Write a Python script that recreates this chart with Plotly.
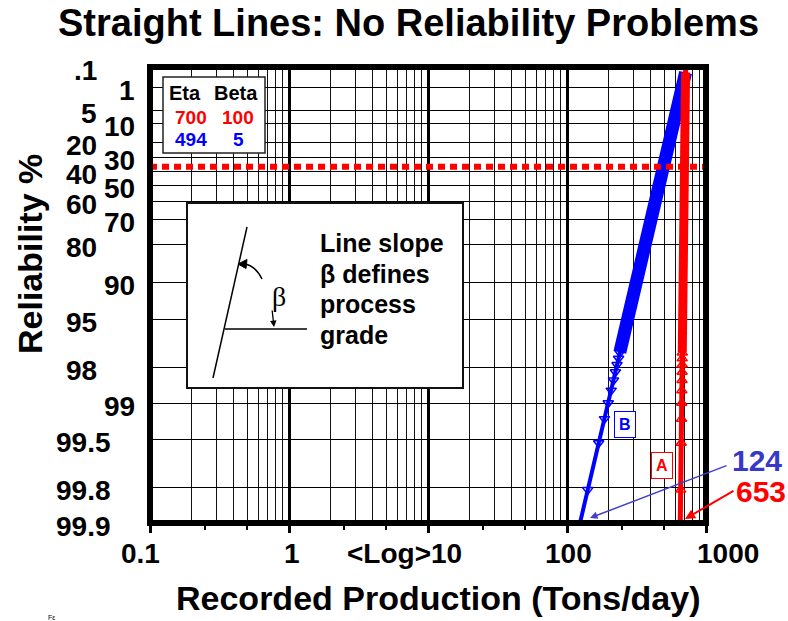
import math
import plotly.graph_objects as go

# ---------------- data ----------------
title_text = "Straight Lines: No Reliability Problems"
x_title = "Recorded Production (Tons/day)"
y_title = "Reliability %"

series_names = ["A", "B"]
eta = [700, 494]
beta = [100, 5]

# straight fitted lines: production (tons/day) at reliability % (chart bottom / top)
line_A_x = [653, 714]
line_A_r = [99.9, 0.1]
line_B_x = [124, 727]
line_B_r = [99.9, 0.1]

# dense upper part of the plotted points (markers overlap into a solid band)
band_A_x = [675, 713]
band_A_r = [97.3, 0.2]
band_B_x = [240, 713]
band_B_r = [97.3, 0.2]

# individually readable points in the lower tail
pts_r = [99.81, 99.53, 99.25, 98.98, 98.70, 98.42, 98.15, 97.87, 97.60, 97.32]
pts_A_x = [657, 663, 667, 669, 670, 672, 673, 674, 674, 675]
pts_B_x = [141, 169, 186, 198, 208, 216, 223, 229, 235, 240]

char_life_r = 36.8  # red dotted reference line

y_grid_r = [1, 5, 10, 20, 30, 40, 50, 60, 70, 80, 90, 95, 98, 99, 99.5, 99.8]
ytick_right = ["1", "10", "30", "50", "70", "90", "99"]
ytick_left = [".1", "5", "20", "40", "60", "80", "95", "98"]
ytick_left2 = ["99.5", "99.8", "99.9"]

x_decades = [0.1, 1, 10, 100, 1000]
xtick_text = ["0.1", "1", "&lt;Log&gt;10", "100", "1000"]
x_minor = [m * d for d in [0.1, 1, 10, 100] for m in range(2, 10)]
x_small_ticks = [0.25, 0.5, 2.5, 5, 25, 50, 250, 500]

callouts = [line_B_x[0], line_A_x[0]]

inset_lines = ["Line slope", "β defines", "process", "grade"]

# ---------------- helpers ----------------
W, H = 788, 621
L, R, T, B = 150, 706, 67, 523
FONT = "Liberation Sans, Arial, sans-serif"


def wy(r):
    """Weibull probability-paper position for reliability %."""
    return math.log(-math.log(r / 100.0))


def px(p):
    return (p - L) / (R - L)


def py(p):
    return (B - p) / (B - T)


BLUE = "#0000ff"
RED = "#ff0000"

fig = go.Figure()

# ---- series B (blue)
fig.add_trace(go.Scatter(x=line_B_x, y=[wy(r) for r in line_B_r], mode="lines",
                         line=dict(color=BLUE, width=4), hoverinfo="skip"))
fig.add_trace(go.Scatter(x=band_B_x, y=[wy(r) for r in band_B_r], mode="lines",
                         line=dict(color=BLUE, width=13), hoverinfo="skip"))
fig.add_trace(go.Scatter(x=pts_B_x, y=[wy(r) for r in pts_r], mode="markers",
                         marker=dict(symbol="triangle-down-open", size=9, color=BLUE,
                                     line=dict(width=1.5, color=BLUE)), hoverinfo="skip"))
# ---- series A (red)
fig.add_trace(go.Scatter(x=line_A_x, y=[wy(r) for r in line_A_r], mode="lines",
                         line=dict(color=RED, width=5), hoverinfo="skip"))
fig.add_trace(go.Scatter(x=band_A_x, y=[wy(r) for r in band_A_r], mode="lines",
                         line=dict(color=RED, width=9), hoverinfo="skip"))
fig.add_trace(go.Scatter(x=pts_A_x, y=[wy(r) for r in pts_r], mode="markers",
                         marker=dict(symbol="triangle-up-open", size=9, color=RED,
                                     line=dict(width=1.5, color=RED)), hoverinfo="skip"))
# dummy trace for the small-tick axis
fig.add_trace(go.Scatter(x=[1], y=[None], xaxis="x2", mode="markers",
                         showlegend=False, hoverinfo="skip"))

shapes = []
# characteristic-life dotted line
shapes.append(dict(type="line", xref="paper", yref="y", x0=0, x1=1,
                   y0=wy(char_life_r), y1=wy(char_life_r),
                   line=dict(color=RED, width=6, dash="7px,5px"), layer="above"))
# legend box
shapes.append(dict(type="rect", xref="paper", yref="paper", x0=px(163), x1=px(265),
                   y0=py(153), y1=py(77), fillcolor="white",
                   line=dict(color="#222", width=1.5), layer="above"))
# inset box
shapes.append(dict(type="rect", xref="paper", yref="paper", x0=px(187), x1=px(463),
                   y0=py(388), y1=py(203), fillcolor="white",
                   line=dict(color="#111", width=2), layer="above"))
# inset drawing
shapes.append(dict(type="line", xref="paper", yref="paper", x0=px(213), y0=py(378),
                   x1=px(247), y1=py(227), line=dict(color="black", width=1.5), layer="above"))
shapes.append(dict(type="line", xref="paper", yref="paper", x0=px(225), y0=py(329),
                   x1=px(307), y1=py(329), line=dict(color="black", width=1.5), layer="above"))


def pt(x, y):
    return f"{px(x):.5f},{py(y):.5f}"


shapes.append(dict(type="path", xref="paper", yref="paper",
                   path=f"M {pt(262, 279)} Q {pt(255, 265)} {pt(244, 264)}",
                   line=dict(color="black", width=1.5), layer="above"))
shapes.append(dict(type="path", xref="paper", yref="paper",
                   path=f"M {pt(238, 264)} L {pt(247, 259.5)} L {pt(246, 268.5)} Z",
                   fillcolor="black", line=dict(color="black", width=1), layer="above"))
# heavy frame
shapes.append(dict(type="rect", xref="paper", yref="paper", x0=0, x1=1, y0=0, y1=1,
                   line=dict(color="black", width=6), layer="above"))

ann = []


def text(x, y, s, size, color="black", xanchor="center", yanchor="middle", **kw):
    d = dict(x=x, y=y, xref="paper", yref="paper", text=s, showarrow=False,
             font=dict(family=FONT, size=size, color=color),
             xanchor=xanchor, yanchor=yanchor)
    d.update(kw)
    ann.append(d)


text(px(408), py(23), f"<b>{title_text}</b>", 38)
text(px(438), py(598), f"<b>{x_title}</b>", 34)
text(px(30), py(254), f"<b>{y_title}</b>", 34, textangle=-90)

# y tick labels
for group, right_edge in ((ytick_right, 137), (ytick_left, 99), (ytick_left2, 113)):
    for lbl in group:
        ann.append(dict(x=px(right_edge), y=wy(float(lbl)), xref="paper", yref="y",
                        text=f"<b>{lbl}</b>", showarrow=False, xanchor="right",
                        yanchor="middle", yshift=-3,
                        font=dict(family=FONT, size=28, color="black")))

# x tick labels
x_shift = [-10, 3, -24, 1, 22]
for v, lbl, sh in zip(x_decades, xtick_text, x_shift):
    ann.append(dict(x=math.log10(v), y=py(553), xref="x", yref="paper",
                    text=f"<b>{lbl}</b>", showarrow=False, xanchor="center",
                    yanchor="middle", xshift=sh,
                    font=dict(family=FONT, size=28, color="black")))

# legend table
text(px(185), py(93), "<b>Eta</b>", 20)
text(px(236), py(93), "<b>Beta</b>", 20)
text(px(191), py(118), f"<b>{eta[0]}</b>", 19, RED)
text(px(238), py(118), f"<b>{beta[0]}</b>", 19, RED)
text(px(191), py(139), f"<b>{eta[1]}</b>", 19, BLUE)
text(px(238), py(139), f"<b>{beta[1]}</b>", 19, BLUE)

# inset text
for i, s in enumerate(inset_lines):
    text(px(318), py(243 + 30.5 * i), f"<b>{s}</b>", 25, xanchor="left")
ann.append(dict(x=px(270), y=py(296), xref="paper", yref="paper", text="β",
                showarrow=False, font=dict(family="Liberation Serif, Times New Roman, serif",
                                           size=28, color="black")))
ann.append(dict(x=px(274), y=py(327), xref="paper", yref="paper", text="",
                showarrow=True, ax=-2, ay=-18, arrowhead=2, arrowsize=1,
                arrowwidth=1.3, arrowcolor="black"))

# series boxes
ann.append(dict(x=px(624.5), y=py(424.5), xref="paper", yref="paper",
                text=f"<b>{series_names[1]}</b>", showarrow=False,
                xanchor="center", yanchor="middle",
                font=dict(family=FONT, size=16, color=BLUE), bgcolor="white",
                bordercolor=BLUE, borderwidth=1, borderpad=4))
ann.append(dict(x=px(661.5), y=py(465), xref="paper", yref="paper",
                text=f"<b>{series_names[0]}</b>", showarrow=False,
                xanchor="center", yanchor="middle",
                font=dict(family=FONT, size=16, color=RED), bgcolor="white",
                bordercolor=RED, borderwidth=1, borderpad=4))

# callouts
text(px(757), py(460), f"<b>{callouts[0]}</b>", 30, "#3838c8")
text(px(761), py(491), f"<b>{callouts[1]}</b>", 30, RED)
ann.append(dict(x=px(590), y=py(518), xref="paper", yref="paper", text="",
                showarrow=True, ax=138, ay=-53, arrowhead=2, arrowsize=1,
                arrowwidth=1.5, arrowcolor="#4040cc"))
ann.append(dict(x=px(685), y=py(519), xref="paper", yref="paper", text="",
                showarrow=True, ax=50, ay=-29, arrowhead=2, arrowsize=1,
                arrowwidth=2, arrowcolor=RED))

text(px(51), py(617), "Fε", 7)

fig.update_layout(
    width=W, height=H,
    margin=dict(l=L, r=W - R, t=T, b=H - B, pad=0),
    paper_bgcolor="white", plot_bgcolor="white",
    showlegend=False,
    xaxis=dict(type="log", range=[-1, 3], tickvals=x_decades, ticks="outside",
               ticklen=9, tickwidth=2.5, tickcolor="black", showticklabels=False,
               showgrid=True, gridcolor="black", gridwidth=3, zeroline=False,
               showline=False,
               minor=dict(tickvals=x_minor, showgrid=True, gridcolor="#111",
                          gridwidth=1.2, ticks="")),
    xaxis2=dict(type="log", range=[-1, 3], overlaying="x", anchor="y", side="bottom",
                tickvals=x_small_ticks, ticks="outside", ticklen=6, tickwidth=1.5,
                tickcolor="black", showticklabels=False, showgrid=False,
                zeroline=False, showline=False),
    yaxis=dict(range=[wy(99.9), wy(0.1)], tickvals=[wy(r) for r in y_grid_r],
               showticklabels=False, ticks="", showgrid=True, gridcolor="black",
               gridwidth=1.3, zeroline=False, showline=False),
    shapes=shapes,
    annotations=ann,
)

fig.write_html("out.html")
